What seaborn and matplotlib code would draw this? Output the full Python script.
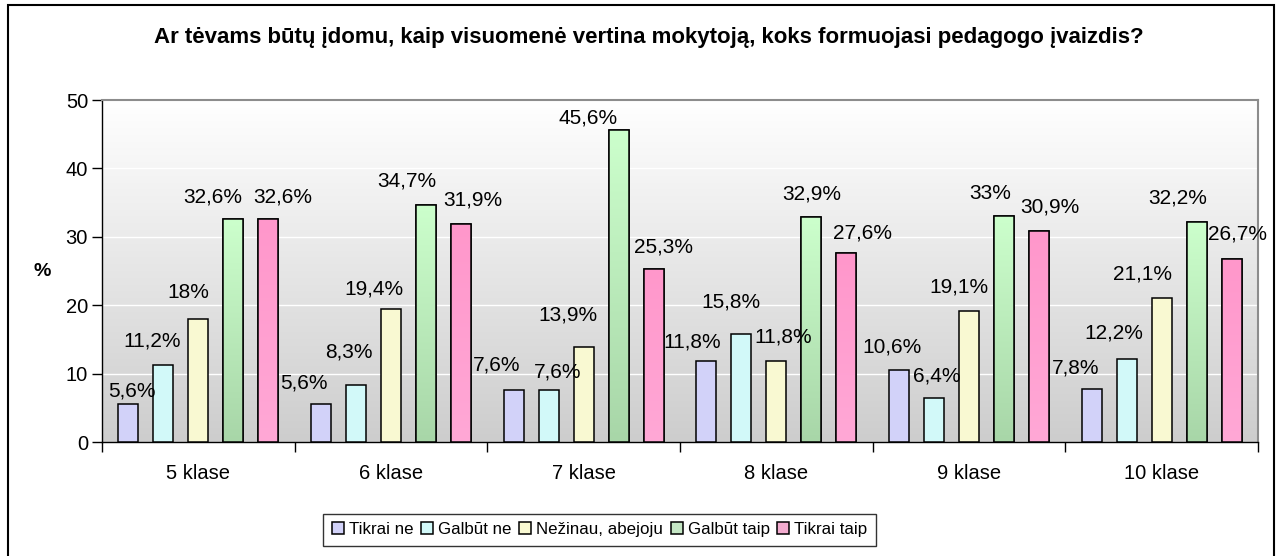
import numpy as np
import pandas as pd
import matplotlib
matplotlib.use("Agg")
import matplotlib.pyplot as plt
from matplotlib.colors import LinearSegmentedColormap
from matplotlib.patches import Rectangle
import seaborn as sns

classes = ["5 klase", "6 klase", "7 klase", "8 klase", "9 klase", "10 klase"]
answers = ["Tikrai ne", "Galbūt ne", "Nežinau, abejoju", "Galbūt taip", "Tikrai taip"]

tikrai_ne = [5.6, 5.6, 7.6, 11.8, 10.6, 7.8]
galbut_ne = [11.2, 8.3, 7.6, 15.8, 6.4, 12.2]
nezinau = [18.0, 19.4, 13.9, 11.8, 19.1, 21.1]
galbut_taip = [32.6, 34.7, 45.6, 32.9, 33.0, 32.2]
tikrai_taip = [32.6, 31.9, 25.3, 27.6, 30.9, 26.7]

colors = ["#CCCCFF", "#CCFFFF", "#FFFFCC", "#C0ECC0", "#FF9FCF"]

# label placement (pixels): horizontal shift from bar centre, height of label centre above bar top
label_dx = [[4, -17, -17, -14, -7, -16],
            [-11, -7, 9, -10, 3, -13],
            [-10, -17, -16, 7, -10, -19],
            [-21, -19, -31, 0, -14, -19],
            [14, 12, 10, 16, 11, 6]]
label_dy = [[13, 21, 25, 19, 23, 21],
            [24, 33, 18, 32, 22, 26],
            [26, 20, 32, 24, 24, 24],
            [22, 24, 12, 23, 23, 24],
            [22, 24, 22, 20, 24, 25]]

series = [tikrai_ne, galbut_ne, nezinau, galbut_taip, tikrai_taip]
rows = []
for ans, vals in zip(answers, series):
    for cls, v in zip(classes, vals):
        rows.append({"Klase": cls, "Atsakymas": ans, "Procentai": v})
df = pd.DataFrame(rows)

sns.set_theme(style="white")
plt.rcParams["font.family"] = ["Liberation Sans", "DejaVu Sans"]
plt.rcParams["text.color"] = "black"
plt.rcParams["axes.labelcolor"] = "black"
plt.rcParams["xtick.color"] = "black"
plt.rcParams["ytick.color"] = "black"

fig = plt.figure(figsize=(12.84, 5.56), dpi=100)
ax = fig.add_axes([0.0794, 0.205, 0.9004, 0.615])

# plot area background: white at top to grey at bottom
bg = LinearSegmentedColormap.from_list("bg", ["#CDCDCD", "#FFFFFF"])
ax.imshow(np.linspace(0, 1, 256).reshape(-1, 1), cmap=bg, aspect="auto",
          extent=[0, 1, 0, 1], transform=ax.transAxes, origin="lower", zorder=0)

sns.barplot(data=df, x="Klase", y="Procentai", hue="Atsakymas",
            hue_order=answers, order=classes, palette=colors,
            width=0.91, gap=0.43, edgecolor="black", linewidth=1.1,
            ax=ax, zorder=3)

# gradient fills for the green and pink series
grads = {3: ["#A8D6A8", "#CCFFCC"], 4: ["#FFA8D6", "#FF97CB"]}
for idx, cols in grads.items():
    cmap = LinearSegmentedColormap.from_list("g%d" % idx, cols)
    for bar in ax.containers[idx]:
        x0, y0 = bar.get_x(), bar.get_y()
        w, h = bar.get_width(), bar.get_height()
        im = ax.imshow(np.linspace(0, 1, 128).reshape(-1, 1), cmap=cmap,
                       aspect="auto", extent=[x0, x0 + w, y0, y0 + h],
                       origin="lower", zorder=3.5)
        im.set_clip_path(bar)
        ax.add_patch(Rectangle((x0, y0), w, h, fill=False, edgecolor="black",
                               linewidth=1.1, zorder=4))

for s, cont in enumerate(ax.containers):
    for j, bar in enumerate(cont):
        v = bar.get_height()
        lbl = f"{v:g}".replace(".", ",") + "%"
        ax.annotate(lbl, (bar.get_x() + bar.get_width() / 2, v),
                    xytext=(label_dx[s][j], label_dy[s][j]),
                    textcoords="offset pixels",
                    ha="center", va="center", fontsize=15, zorder=5)

ax.set_xlim(-0.5, 5.5)
ax.set_ylim(0, 50)
ax.set_yticks(range(0, 51, 10))
for y in range(10, 51, 10):
    ax.axhline(y, color="white", linewidth=1, zorder=1)

ax.set_xticks(np.arange(-0.5, 6, 1), minor=True)
ax.tick_params(axis="x", which="major", length=0, labelsize=14.5, pad=16)
ax.tick_params(axis="x", which="minor", length=7, width=1, direction="out",
               color="black", bottom=True)
ax.tick_params(axis="y", length=7, width=1, direction="out", color="black",
               left=True, labelsize=14.5, pad=3)

ax.set_xlabel("")
ax.set_ylabel("%", rotation=0, fontsize=14, fontweight="bold", va="center")
ax.yaxis.set_label_coords(-0.052, 0.5)

for side in ["left", "bottom"]:
    ax.spines[side].set_color("black")
    ax.spines[side].set_linewidth(1)
for side in ["top", "right"]:
    ax.spines[side].set_color("#8C8C8C")
    ax.spines[side].set_linewidth(1.5)

fig.text(0.5055, 1 - 38 / 556,
         "Ar tėvams būtų įdomu, kaip visuomenė vertina mokytoją, koks formuojasi pedagogo įvaizdis?",
         fontsize=16, fontweight="bold", ha="center", va="center")

handles, labels = ax.get_legend_handles_labels()
ax.get_legend().remove()
leg = fig.legend(handles, labels, loc="center", bbox_to_anchor=(0.467, 0.0475),
                 ncol=5, fontsize=12.2, frameon=True, fancybox=False,
                 handlelength=0.7, handleheight=0.7, handletextpad=0.3,
                 columnspacing=0.45, borderpad=0.5, borderaxespad=0)
leg.get_frame().set_edgecolor("black")
leg.get_frame().set_linewidth(1)

# outer chart border
fig.patches.append(Rectangle((8 / 1284, -0.01), 1266 / 1284, 1 - 5 / 556 + 0.01,
                             transform=fig.transFigure, fill=False,
                             edgecolor="black", linewidth=1.5))

fig.savefig("out.png", dpi=100, facecolor="white")
